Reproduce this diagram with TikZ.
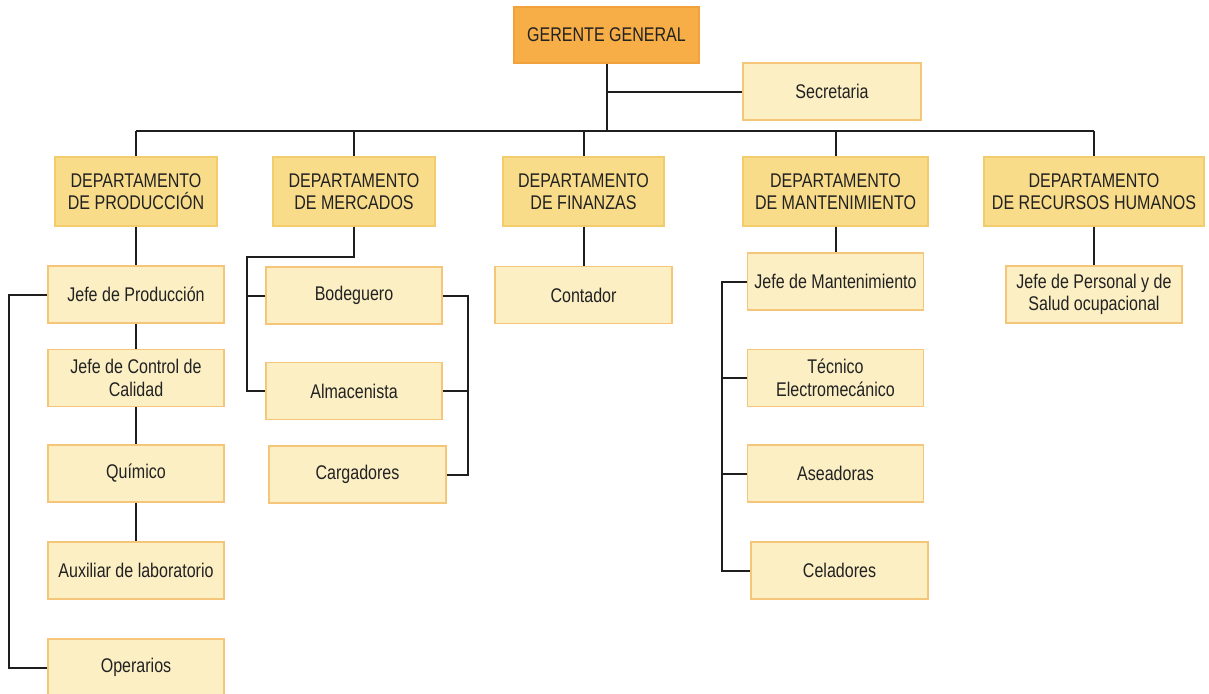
\documentclass[tikz,border=0pt]{standalone}
\usepackage{fontspec}
\setmainfont[FakeStretch=0.81]{Liberation Sans}
\definecolor{ggfill}{HTML}{F7AE47}
\definecolor{ggdraw}{HTML}{F2A23A}
\definecolor{depfill}{HTML}{F8DC8A}
\definecolor{depdraw}{HTML}{F3CC6E}
\definecolor{subfill}{HTML}{FCEFC4}
\definecolor{subdraw}{HTML}{F5C57A}
\definecolor{txt}{HTML}{222222}
\definecolor{wire}{HTML}{1E1E1E}
\begin{document}
\begin{tikzpicture}[x=1pt,y=-1pt,
  base/.style={rectangle,inner sep=2pt,align=center,text=txt,
    font=\fontsize{19.8}{22.5}\selectfont,line width=1.3pt},
  ggbox/.style={base,fill=ggfill,draw=ggdraw,minimum width=185pt,minimum height=56pt},
  depbox/.style={base,fill=depfill,draw=depdraw,minimum height=69pt},
  subbox/.style={base,fill=subfill,draw=subdraw,minimum width=176pt,minimum height=57pt},
  wireline/.style={draw=wire,line width=2pt}]
\useasboundingbox (0,0) rectangle (1209,693);
% top
\node[ggbox] (gg) at (606.5,35) {GERENTE GENERAL};
\node[subbox,minimum width=178pt] (sec) at (832,91.5) {Secretaria};
% departments
\node[depbox,minimum width=162pt] (prod) at (136,191.5) {DEPARTAMENTO\\DE PRODUCCIÓN};
\node[depbox,minimum width=162pt] (merc) at (354,191.5) {DEPARTAMENTO\\DE MERCADOS};
\node[depbox,minimum width=161pt] (fin) at (583.5,191.5) {DEPARTAMENTO\\DE FINANZAS};
\node[depbox,minimum width=185pt] (mant) at (835.5,191.5) {DEPARTAMENTO\\DE MANTENIMIENTO};
\node[depbox,minimum width=220pt] (rrhh) at (1094,191.5) {DEPARTAMENTO\\DE RECURSOS HUMANOS};
% produccion
\node[subbox] (jp) at (136,294.5) {Jefe de Producción};
\node[subbox] (jcc) at (136,378) {Jefe de Control de\\Calidad};
\node[subbox] (qui) at (136,473.5) {Químico};
\node[subbox] (aux) at (136,570.5) {Auxiliar de laboratorio};
\node[subbox] (oper) at (136,667.5) {Operarios};
% mercados
\node[subbox] (bod) at (354,295.5) {Bodeguero};
\node[subbox] (alm) at (354,391) {Almacenista};
\node[subbox,minimum width=177pt] (car) at (357.5,474.5) {Cargadores};
% finanzas
\node[subbox,minimum width=177pt] (cont) at (583.5,295) {Contador};
% mantenimiento
\node[subbox] (jm) at (835.5,281.5) {Jefe de Mantenimiento};
\node[subbox] (tec) at (835.5,378) {Técnico\\Electromecánico};
\node[subbox] (ase) at (835.5,473.5) {Aseadoras};
\node[subbox,minimum width=177pt] (cel) at (839.5,570.5) {Celadores};
% rrhh
\node[subbox] (jps) at (1094,294.5) {Jefe de Personal y de\\Salud ocupacional};
% coordinates
\coordinate (busL) at (136,131);
\coordinate (busR) at (1094,131);
\coordinate (lx) at (9,300);
\coordinate (mx) at (247,257);
\coordinate (rx) at (468,300);
\coordinate (kx) at (722,300);
% connectors
\draw[wireline] (busL) -- (busR);
\draw[wireline] (gg.south) -- (gg.south |- busL);
\draw[wireline] (gg.south |- sec.west) -- (sec.west);
\foreach \d in {prod,merc,fin,mant,rrhh}
  \draw[wireline] (\d.north) -- (\d.north |- busL);
\draw[wireline] (prod.south) -- (jp.north);
\draw[wireline] (jp.south) -- (jcc.north);
\draw[wireline] (jcc.south) -- (qui.north);
\draw[wireline] (qui.south) -- (aux.north);
\draw[wireline] (jp.west) -- (jp.west -| lx) |- (oper.west);
\draw[wireline] (merc.south) |- (mx) |- (alm.west);
\draw[wireline] (bod.west) -- (bod.west -| mx);
\draw[wireline] (bod.east) -- (bod.east -| rx) |- (car.east);
\draw[wireline] (alm.east) -- (alm.east -| rx);
\draw[wireline] (fin.south) -- (cont.north);
\draw[wireline] (mant.south) -- (jm.north);
\draw[wireline] (jm.west) -- (jm.west -| kx) |- (cel.west);
\draw[wireline] (tec.west) -- (tec.west -| kx);
\draw[wireline] (ase.west) -- (ase.west -| kx);
\draw[wireline] (rrhh.south) -- (jps.north);
\end{tikzpicture}
\end{document}
